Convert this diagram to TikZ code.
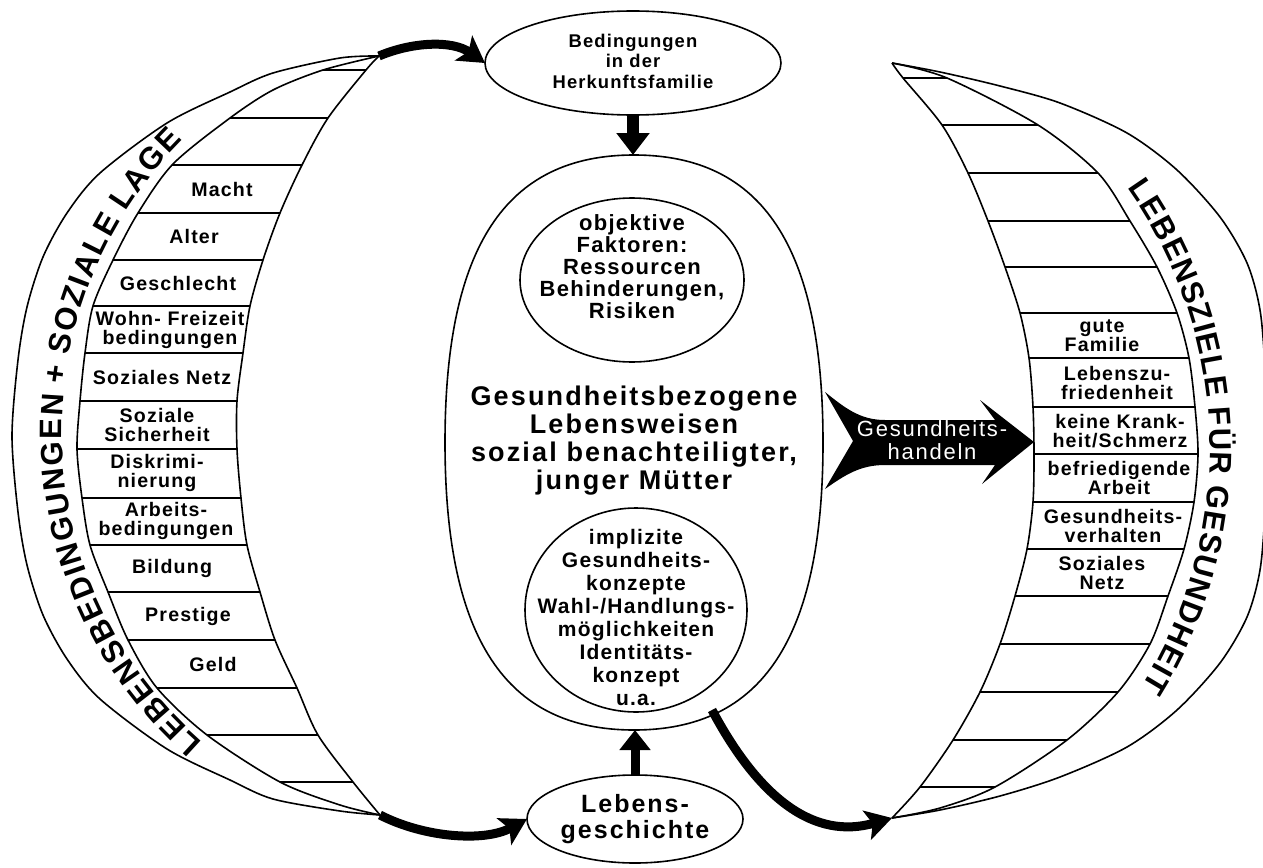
\documentclass[tikz,border=0pt]{standalone}
\usepackage{fontspec}
\setmainfont{Liberation Sans}
\newfontfamily\lf{Liberation Sans}[LetterSpace=6]
\newfontfamily\lfw{Liberation Sans}[LetterSpace=8]
\usetikzlibrary{arrows.meta,shapes.geometric}
% #1 name prefix, #2 cx, #3 cy, #4 R, #5 start angle, #6 gap (pt), #7 list char/width(em)/pre(em)
\newcommand\placeband[7]{%
  \xdef\bandpos{0}%
  \foreach \ch/\w/\pre [count=\i] in {#7} {%
    \pgfmathsetmacro\midpos{\bandpos + (\pre + \w/2)*15.5}%
    \pgfmathsetmacro\bandang{#5 + \midpos/(#4*0.5)*180/pi}%
    \node[bandletter, rotate=-\bandang-90] (#1\i) at ([shift={(#2,#3)}]\bandang:#4) {\ch};
    \pgfmathsetmacro\nextpos{\bandpos + (\pre + \w)*15.5 + #6}%
    \xdef\bandpos{\nextpos}%
  }%
}
\begin{document}
\begin{tikzpicture}[x=0.5pt,y=-0.5pt,
  arcline/.style={line width=0.8pt, line join=round},
  stripeline/.style={line width=0.9pt},
  bubble/.style={draw, ellipse, line width=0.8pt, inner sep=0pt, outer sep=0pt},
  ghost/.style={ellipse, inner sep=0pt, outer sep=0pt},
  lbl/.style={font=\lf\bfseries\fontsize{9.8}{9.5}\selectfont, align=center, inner sep=0pt},
  bodytxt/.style={align=center, inner sep=0pt},
  bandletter/.style={anchor=base, inner sep=0pt, outer sep=0pt, font=\bfseries\fontsize{15.5}{15.5}\selectfont},
  flowarrow/.style={line width=4.5pt, -{Stealth[length=13pt,width=15pt,inset=3pt]}},
]
\fill[white] (0,0) rectangle (1263,867);
\useasboundingbox (0,0) rectangle (1263,867);

% tips
\coordinate (LT) at (379,56);
\coordinate (LB) at (380,815);
\coordinate (RT) at (892,63);
\coordinate (RB) at (892,818);
\coordinate (mainout) at (712,710);

% ---------- left crescent ----------
\draw[arcline] plot[smooth] coordinates {(LT) (340,58) (273,73) (230,92) (167,123) (100,173) (67,213) (43,257) (27,307) (18,360) (12,436) (18,512) (27,565) (43,615) (67,659) (100,699) (167,749) (230,780) (273,799) (340,811) (LB)};
\draw[arcline] plot[smooth] coordinates {(LT) (323,70) (273,90) (230,118) (173,164) (138,213) (113,260) (93,306) (85,353) (80,401) (77,449) (82,498) (90,545) (108,592) (128,640) (157,688) (207,735) (280,782) (340,805) (LB)};
\draw[arcline] plot[smooth] coordinates {(LT) (366,70) (328,118) (302,165) (280,213) (263,260) (250,306) (243,353) (237,401) (237,449) (241,498) (247,545) (260,592) (275,640) (297,688) (318,735) (353,782) (LB)};
\begin{scope}
\clip plot[smooth] coordinates {(LT) (323,70) (273,90) (230,118) (173,164) (138,213) (113,260) (93,306) (85,353) (80,401) (77,449) (82,498) (90,545) (108,592) (128,640) (157,688) (207,735) (280,782) (340,805) (LB)}
  -- plot[smooth] coordinates {(LB) (353,782) (318,735) (297,688) (275,640) (260,592) (247,545) (241,498) (237,449) (237,401) (243,353) (250,306) (263,260) (280,213) (302,165) (328,118) (366,70) (LT)} -- cycle;
\foreach \yy in {70,118,165,213,260,306,353,401,449,498,545,592,640,688,735,782}
  \draw[stripeline] (0,\yy) -- (460,\yy);
\end{scope}
\placeband{lb}{474}{432}{412}{131.2}{0.94}{L/.611/0, E/.667/0, B/.722/0, E/.667/0, N/.722/0, S/.667/0, B/.722/0, E/.667/0, D/.722/0, I/.278/0, N/.722/0, G/.778/0, U/.722/0, N/.722/0, G/.778/0, E/.667/0, N/.722/0, +/.584/.278, S/.667/.278, O/.778/0, Z/.611/0, I/.278/0, A/.722/0, L/.611/0, E/.667/0, L/.611/.278, A/.722/0, G/.778/0, E/.667/0}

\node[lbl] (l1) at (222,189) {Macht};
\node[lbl] (l2) at (194,236) {Alter};
\node[lbl] (l3) at (178,283) {Geschlecht};
\node[lbl] (l4) at (170,330) {Wohn- Freizeit\\bedingungen};
\node[lbl] (l5) at (162,377) {Soziales Netz};
\node[lbl] (l6) at (157,425) {Soziale\\Sicherheit};
\node[lbl] (l7) at (157,473) {Diskrimi-\\nierung};
\node[lbl] (l8) at (166,521) {Arbeits-\\bedingungen};
\node[lbl] (l9) at (172,568) {Bildung};
\node[lbl] (l10) at (188,616) {Prestige};
\node[lbl] (l11) at (213,664) {Geld};

% ---------- right crescent ----------
\draw[arcline] plot[smooth] coordinates {(RT) (940,72) (1000,86) (1060,103) (1127,133) (1177,170) (1220,217) (1247,263) (1260,310) (1265,370) (1266,440) (1265,510) (1260,570) (1247,617) (1220,663) (1177,710) (1127,747) (1060,777) (1000,796) (940,810) (RB)};
\draw[arcline] plot[smooth] coordinates {(RT) (947,78) (1038,125) (1098,173) (1130,221) (1157,267) (1177,313) (1189,358) (1195,407) (1198,454) (1194,502) (1184,549) (1168,596) (1150,644) (1118,692) (1067,740) (995,787) (940,808) (RB)};
\draw[arcline] plot[smooth] coordinates {(RT) (903,78) (942,125) (968,173) (988,221) (1005,267) (1020,313) (1029,358) (1033,407) (1034,454) (1033,502) (1027,549) (1015,596) (1000,644) (980,692) (953,740) (920,787) (RB)};
\begin{scope}
\clip plot[smooth] coordinates {(RT) (903,78) (942,125) (968,173) (988,221) (1005,267) (1020,313) (1029,358) (1033,407) (1034,454) (1033,502) (1027,549) (1015,596) (1000,644) (980,692) (953,740) (920,787) (RB)}
  -- plot[smooth] coordinates {(RB) (940,808) (995,787) (1067,740) (1118,692) (1150,644) (1168,596) (1184,549) (1194,502) (1198,454) (1195,407) (1189,358) (1177,313) (1157,267) (1130,221) (1098,173) (1038,125) (947,78) (RT)} -- cycle;
\foreach \yy in {78,125,173,221,267,313,358,407,454,502,549,596,644,692,740,787}
  \draw[stripeline] (850,\yy) -- (1263,\yy);
\end{scope}
\placeband{rb}{761}{448}{449}{-35.4}{0.68}{L/.611/0, E/.667/0, B/.722/0, E/.667/0, N/.722/0, S/.667/0, Z/.611/0, I/.278/0, E/.667/0, L/.611/0, E/.667/0, F/.611/.278, Ü/.722/0, R/.722/0, G/.778/.278, E/.667/0, S/.667/0, U/.722/0, N/.722/0, D/.722/0, H/.722/0, E/.667/0, I/.278/0, T/.611/0}

\node[lbl] (r1) at (1102,336) {gute\\Familie};
\node[lbl] (r2) at (1117,383) {Lebenszu-\\friedenheit};
\node[lbl] (r3) at (1120,431) {keine Krank-\\heit/Schmerz};
\node[lbl] (r4) at (1119,478) {befriedigende\\Arbeit};
\node[lbl] (r5) at (1113,526) {Gesundheits-\\verhalten};
\node[lbl] (r6) at (1102,573) {Soziales\\Netz};

% ---------- centre ----------
\node[bubble, minimum width=148pt, minimum height=52pt] (fam) at (633,63) {};
\node[bodytxt, font=\lf\bfseries\fontsize{9.2}{10.25}\selectfont] (famtxt) at (633,61) {Bedingungen\\in der\\Herkunftsfamilie};

\node[ghost, minimum width=189pt, minimum height=287.5pt] (main) at (634,442.5) {};
\draw[arcline] (634,155) .. controls (762.5,155) and (823,247) .. (823,442.5)
  .. controls (823,638) and (762.5,730) .. (634,730)
  .. controls (505.5,730) and (445,638) .. (445,442.5)
  .. controls (445,247) and (505.5,155) .. cycle;
\node[bodytxt, font=\lfw\bfseries\fontsize{13.5}{14}\selectfont] (maintxt) at (634,441) {Gesundheitsbezogene\\Lebensweisen\\sozial benachteiligter,\\junger Mütter};

\node[bubble, minimum width=112pt, minimum height=82pt] (obj) at (632,280) {};
\node[bodytxt, font=\lf\bfseries\fontsize{11}{11}\selectfont] (objtxt) at (632,267) {objektive\\Faktoren:\\Ressourcen\\Behinderungen,\\Risiken};

\node[bubble, minimum width=111pt, minimum height=102pt] (impl) at (636,610) {};
\node[bodytxt, font=\lf\bfseries\fontsize{10.5}{11.5}\selectfont] (impltxt) at (636,617) {implizite\\Gesundheits-\\konzepte\\Wahl-/Handlungs-\\möglichkeiten\\Identitäts-\\konzept\\u.a.};

\node[bubble, minimum width=108pt, minimum height=44pt] (life) at (635,819) {};
\node[bodytxt, font=\lfw\bfseries\fontsize{12.5}{13}\selectfont] (lifetxt) at (635,819) {Lebens-\\geschichte};

% ---------- arrows ----------
\draw[flowarrow] (LT) .. controls (412,42) and (452,40) .. (fam.west);
\draw[flowarrow] (LB) .. controls (425,838) and (485,842) .. (life.west);
\draw[flowarrow] (mainout) .. controls (760,800) and (815,840) .. (RB);
\draw[line width=6pt, -{Triangle[length=11pt,width=16pt]}] (fam.south) -- (fam.south |- main.north);
\draw[line width=4.5pt, -{Triangle[length=10pt,width=15pt]}] (life.north) -- (life.north |- main.south);

% Gesundheitshandeln arrow
\fill (825,392) .. controls (845,408) and (860,420) .. (885,420) -- (995,420) -- (980,400) -- (1034,442)
  -- (982,484) -- (995,465) -- (885,465) .. controls (860,465) and (845,475) .. (825,489) -- (853,441) -- cycle;
\node[bodytxt, text=white, font=\lfw\fontsize{11}{11.5}\selectfont] (hand) at (932,440) {Gesundheits-\\handeln};
\end{tikzpicture}
\end{document}
